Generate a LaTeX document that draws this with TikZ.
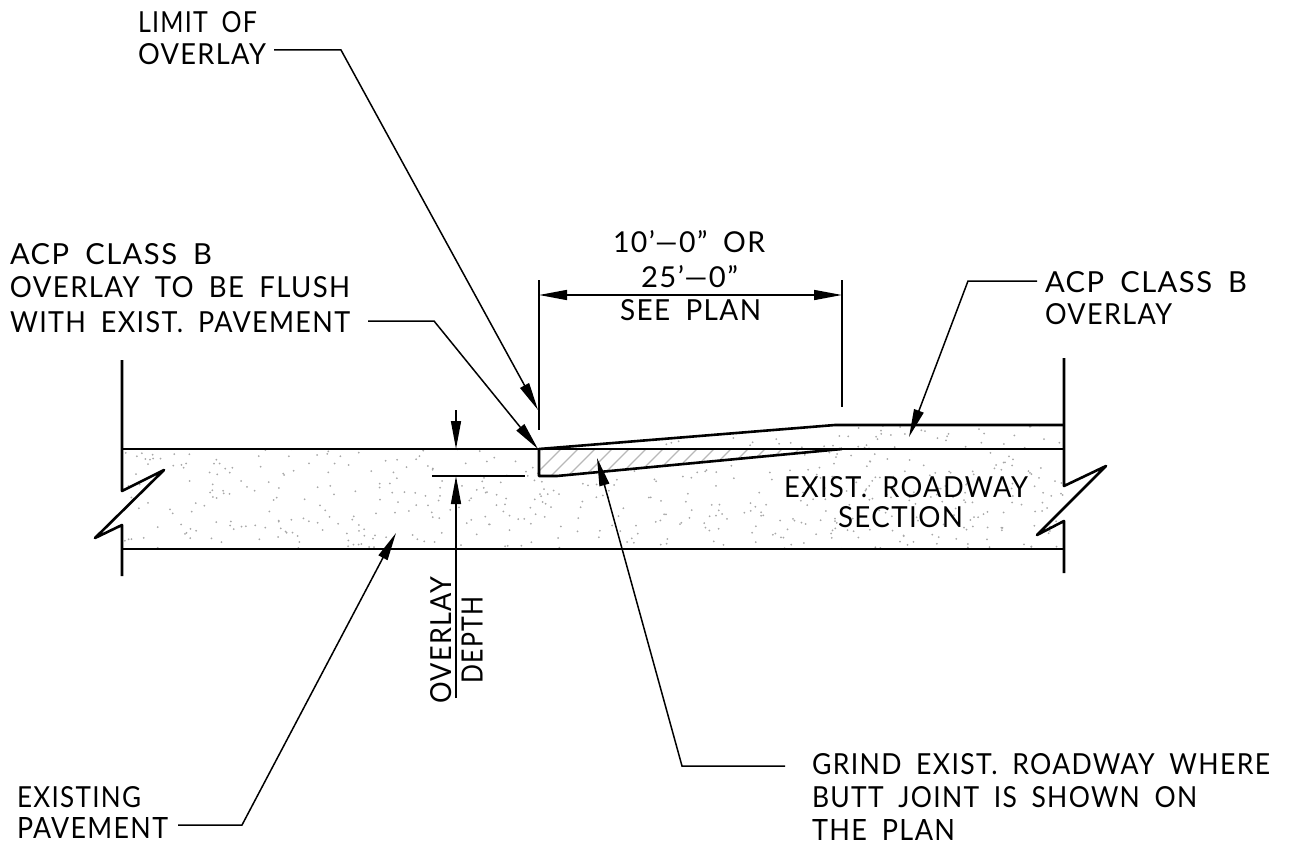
\documentclass[tikz,border=0pt]{standalone}
\usepackage{fontspec}
\usepackage{graphicx}
\setmainfont{Lato}[LetterSpace=5,WordSpace=1.8,Ligatures=TeX]
\usetikzlibrary{arrows.meta}
\definecolor{dotgrey}{gray}{0.66}
\definecolor{hatchgrey}{gray}{0.72}
\tikzset{
  heavy/.style={line width=2.6pt,line join=round},
  thin leader/.style={line width=1.5pt},
  tipend/.style={-{Stealth[inset=0pt,length=28pt,width=10pt]}},
  tipboth/.style={{Stealth[inset=0pt,length=28pt,width=10pt]}-{Stealth[inset=0pt,length=28pt,width=10pt]}},
  lab/.style={inner sep=0pt,outer sep=0pt,anchor=north west,text=black},
  speck/.style={fill=dotgrey,draw=none}
}
\newcommand{\lbl}[6]{\node[lab] (#1) at (#2,#3) {\resizebox{#4pt}{#5pt}{#6}};}
\begin{document}
\begin{tikzpicture}[x=1pt,y=-1pt]
\useasboundingbox (0,0) rectangle (1290,856);
% ---- specks
\pgfmathsetseed{4711}
\begin{scope}
\clip (122,449)--(539,449)--(539,476)--(557,476)--(842,449)--(1064,449)--(1064,549)--(122,549)--cycle;
\foreach \i in {1,...,520}{
  \pgfmathsetmacro\px{122+rnd*942}
  \pgfmathsetmacro\py{449+rnd*100}
  \fill[speck] (\px,\py) circle (1pt);
}
\end{scope}
\begin{scope}
\clip (539,449)--(835,425)--(1064,425)--(1064,449)--cycle;
\foreach \i in {1,...,60}{
  \pgfmathsetmacro\px{600+rnd*464}
  \pgfmathsetmacro\py{425+rnd*24}
  \fill[speck] (\px,\py) circle (1pt);
}
\end{scope}
% ---- hatch
\begin{scope}
\clip (539,449)--(539,476)--(557,476)--(842,449)--cycle;
\foreach \h in {0,17,...,340}{
  \draw[hatchgrey,line width=1.2pt] (530+\h,480)--(566+\h,444);
}
\end{scope}
% ---- section outlines
\coordinate (LT) at (122,360);
\coordinate (LB) at (122,576);
\coordinate (RT) at (1064,358);
\coordinate (RB) at (1064,573);
\draw[heavy] (LT)--(122,491)--(164,470)--(95,538)--(122,525)--(LB);
\draw[heavy] (RT)--(1064,486)--(1106,466)--(1037,535)--(1064,521)--(RB);
\draw[heavy] (122,449)--(1064,449);
\draw[heavy] (122,549)--(1064,549);
\draw[heavy] (539,449)--(835,425)--(1064,425);
\draw[heavy] (539,449)--(539,476)--(557,476)--(842,449);
% ---- texts
\lbl{limA}{138}{11}{119}{21}{LIMIT OF}
\lbl{limB}{138}{43}{128}{21}{OVERLAY}
\lbl{flA}{10}{243}{202}{21}{ACP CLASS B}
\lbl{flB}{10}{276}{340}{21}{OVERLAY TO BE FLUSH}
\lbl{flC}{10}{311}{340}{21}{WITH EXIST. PAVEMENT}
\lbl{dimA}{613}{230}{152}{22}{10'---0'' OR}
\lbl{dimB}{641}{265}{97}{22}{25'---0''}
\lbl{dimC}{620}{299}{141}{21}{SEE PLAN}
\lbl{ovA}{1045}{271}{202}{21}{ACP CLASS B}
\lbl{ovB}{1045}{303}{127}{21}{OVERLAY}
\lbl{secA}{784}{476}{244}{21}{EXIST. ROADWAY}
\lbl{secB}{838}{506}{125}{21}{SECTION}
\lbl{exA}{17}{786}{124}{21}{EXISTING}
\lbl{exB}{17}{817}{151}{21}{PAVEMENT}
\lbl{grA}{812}{753}{458}{21}{GRIND EXIST. ROADWAY WHERE}
\lbl{grB}{812}{786}{385}{21}{BUTT JOINT IS SHOWN ON}
\lbl{grC}{812}{819}{143}{21}{THE PLAN}
\node[inner sep=0pt,rotate=90] (depA) at (441,640) {\resizebox{127pt}{21pt}{OVERLAY}};
\node[inner sep=0pt,rotate=90] (depB) at (472,640) {\resizebox{87pt}{21pt}{DEPTH}};
% ---- leaders
\coordinate (limS) at (274,50);
\coordinate (limK) at (341,50);
\coordinate (limT) at (538,410);
\draw[thin leader,tipend] (limS)--(limK)--(limT);
\coordinate (flS) at (368,321);
\coordinate (flK) at (434,321);
\coordinate (flT) at (538,449);
\draw[thin leader,tipend] (flS)--(flK)--(flT);
\coordinate (ovS) at (1037,281);
\coordinate (ovK) at (968,281);
\coordinate (ovT) at (909,437);
\draw[thin leader,tipend] (ovS)--(ovK)--(ovT);
\coordinate (exS) at (178,825);
\coordinate (exK) at (242,825);
\coordinate (exT) at (396,533);
\draw[thin leader,tipend] (exS)--(exK)--(exT);
\coordinate (grS) at (785,766);
\coordinate (grK) at (682,766);
\coordinate (grT) at (597,458);
\draw[thin leader,tipend] (grS)--(grK)--(grT);
% ---- dimension
\coordinate (dA) at (539,295);
\coordinate (dB) at (842,295);
\draw[thin leader] (539,280)--(539,430);
\draw[thin leader] (842,280)--(842,407);
\draw[thin leader,tipboth] (dA)--(dB);
% ---- depth
\coordinate (upS) at (456,410);
\coordinate (upT) at (456,449);
\coordinate (dnS) at (456,698);
\coordinate (dnT) at (456,476);
\draw[thin leader,tipend] (upS)--(upT);
\draw[thin leader,tipend] (dnS)--(dnT);
\draw[thin leader] (432,476)--(525,476);
\end{tikzpicture}
\end{document}
